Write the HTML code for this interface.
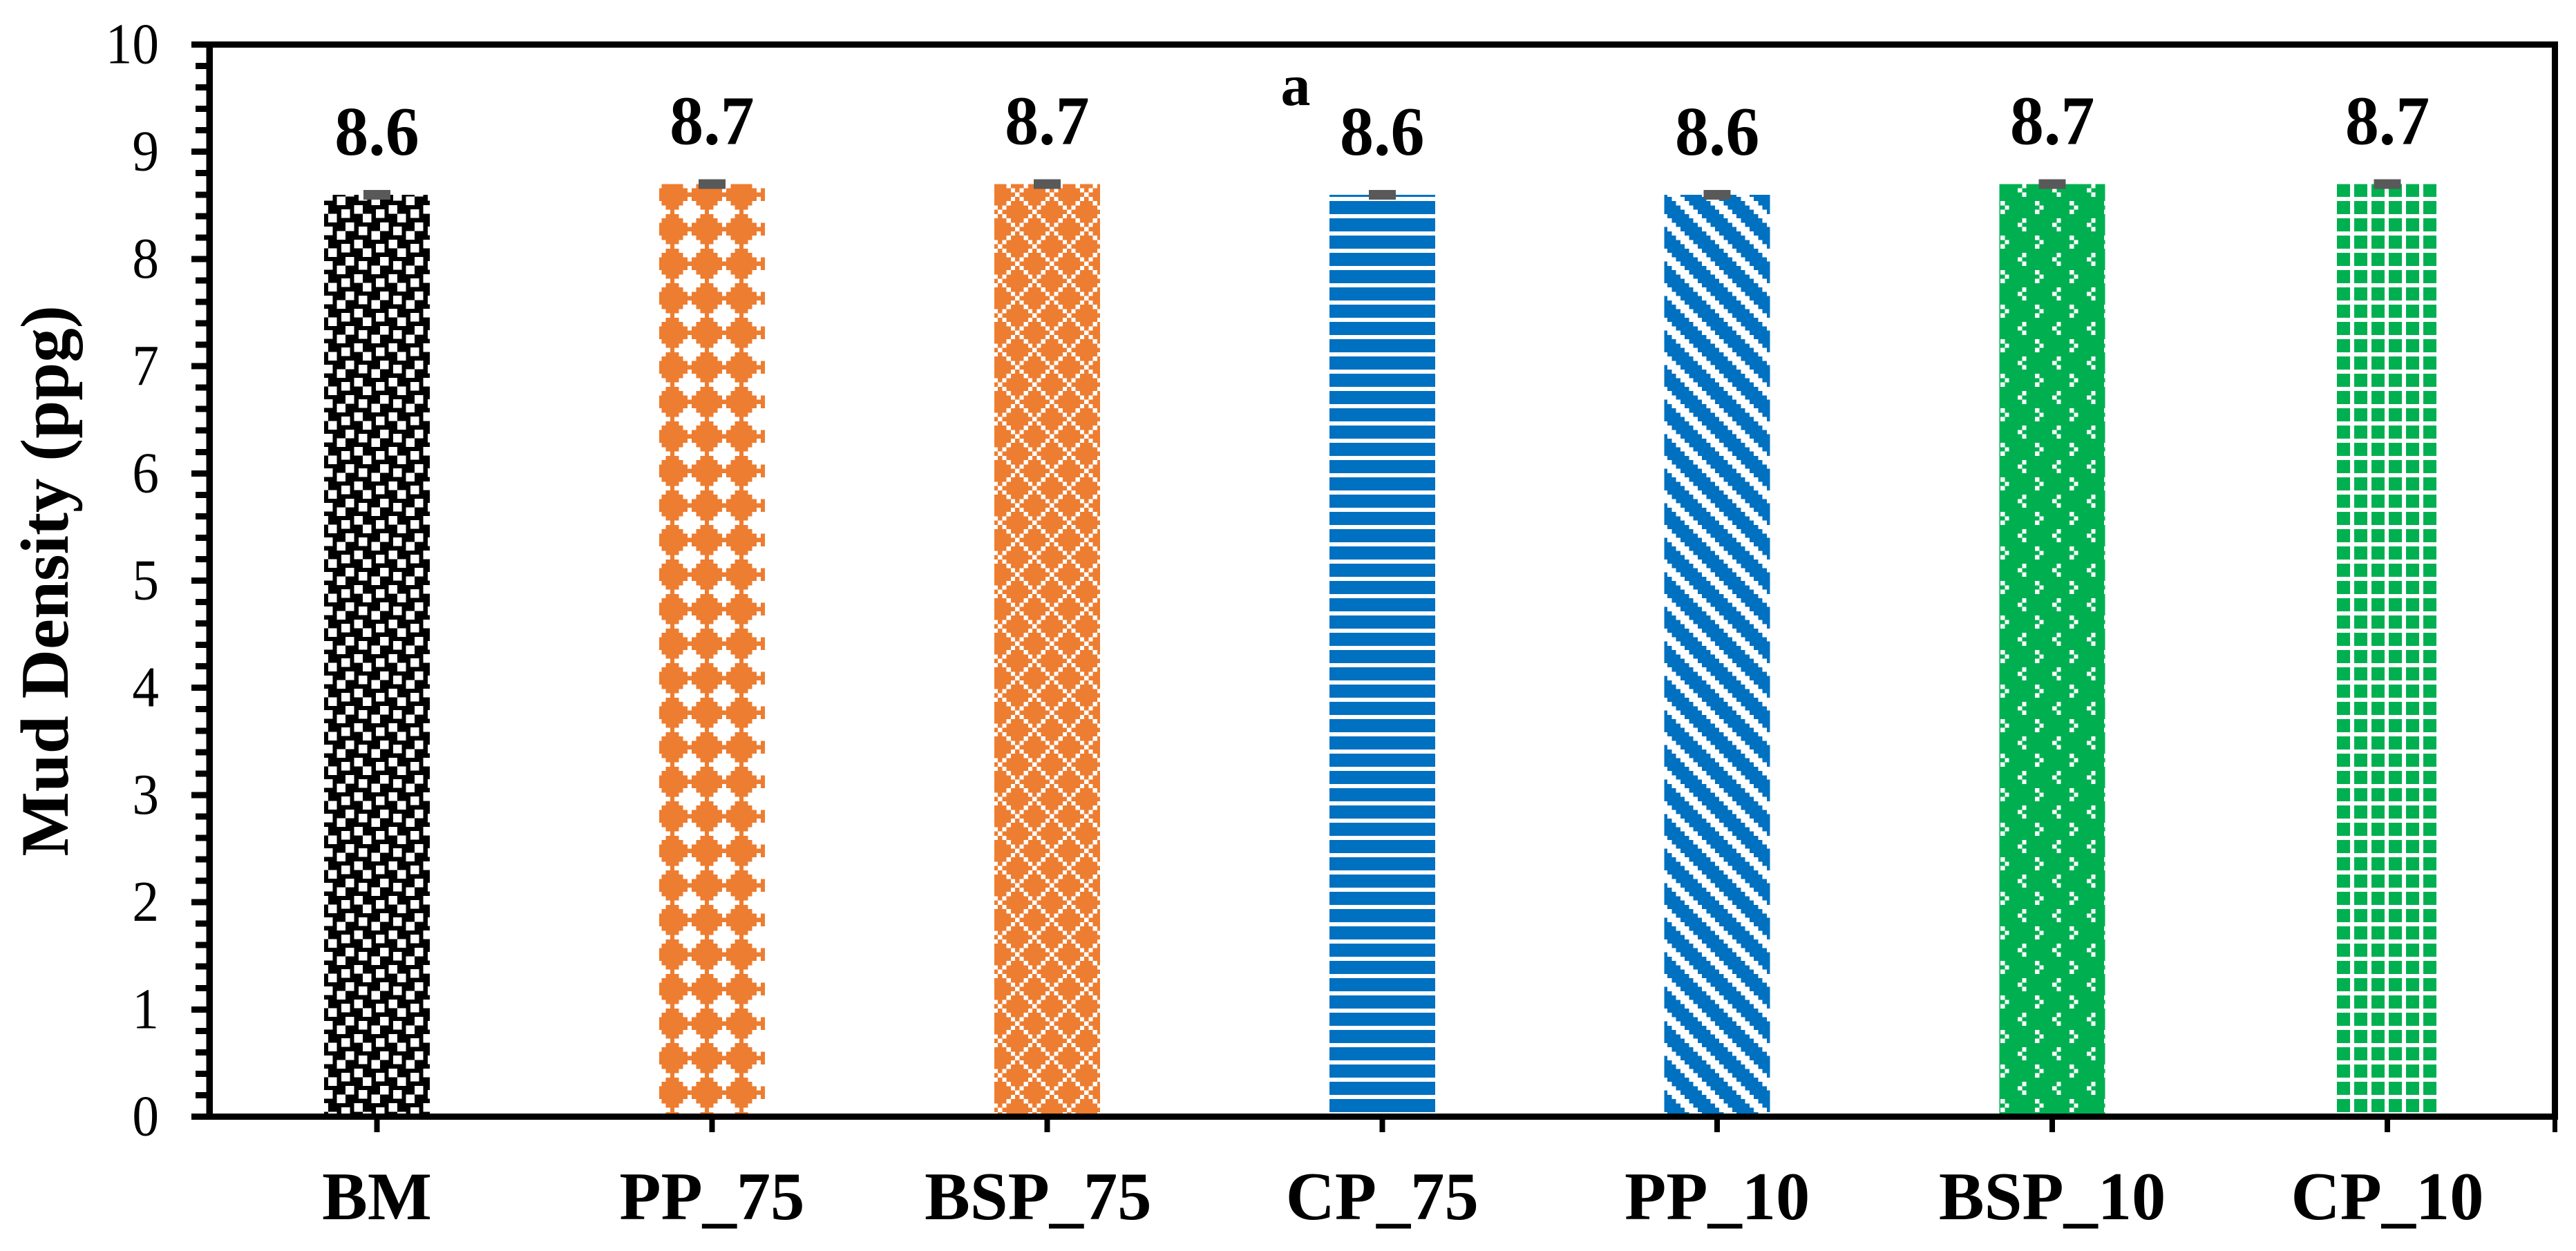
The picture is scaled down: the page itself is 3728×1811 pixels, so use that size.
<!DOCTYPE html>
<html lang="en">
<head>
<meta charset="utf-8">
<title>Mud Density Bar Chart</title>
<style>
html,body{margin:0;padding:0;background:#fff;}
svg{display:block;}
text{font-family:"Liberation Serif","Times New Roman",serif;fill:#000;}
</style>
</head>
<body>
<svg id="chart" xmlns="http://www.w3.org/2000/svg" width="3728" height="1811" viewBox="0 0 3728 1811">
  <rect x="0" y="0" width="3728" height="1811" fill="#ffffff"/>
  <defs id="pattern-defs"></defs>
  <g id="bars"></g>
  <g id="axes"></g>
  <g id="labels"></g>
  <text transform="translate(98,841) rotate(-90)" text-anchor="middle" font-size="99" font-weight="bold">Mud Density (ppg)</text>
  <text x="1875" y="152" text-anchor="middle" font-size="86" font-weight="bold">a</text>
</svg>
<script>
// Chart data
const categories = ['BM', 'PP_75', 'BSP_75', 'CP_75', 'PP_10', 'BSP_10', 'CP_10'];
const densityValues = [8.6, 8.7, 8.7, 8.6, 8.6, 8.7, 8.7];
const valueLabels = ['8.6', '8.7', '8.7', '8.6', '8.6', '8.7', '8.7'];
const yTickLabels = ['0', '1', '2', '3', '4', '5', '6', '7', '8', '9', '10'];

// Excel-style 8x8 hatch bitmaps ('1' = coloured cell)
const hatchConfetti = ['01110010','01001110','11001111','11111100','11100100','00100111','00111111','11110011'];
const hatchDiamond = ['01111100','11111110','11111111','11111110','01111100','00111000','00010000','00111000'];
const hatchOutline = ['11011101','11101011','11110111','11101011','11011101','10111110','01111111','10111110'];
const hatchStripes = ['11111111','11111111','11111111','00000000','11111111','11111111','11111111','00000000'];
const hatchDiagonal = ['01111100','00111110','00011111','10001111','11000111','11100011','11110001','11111000'];
const hatchSparse = ['11111011','11110111','11111011','11111111','01111111','10111111','01111111','11111111'];
const hatchGrid = ['11101110','11101110','11101110','00000000','11101110','11101110','11101110','00000000'];

const barHatches = [hatchConfetti, hatchDiamond, hatchOutline, hatchStripes, hatchDiagonal, hatchSparse, hatchGrid];
const barColors = ['#000000', '#ED7D31', '#ED7D31', '#0070C0', '#0070C0', '#00B050', '#00B050'];
const hatchOriginX = [475, 951, 1444, 1924, 2413, 2895, 3382];
const hatchOriginY = [278, 266, 266, 266, 266, 266, 266];

// Layout and scales
const SVG_NS = 'http://www.w3.org/2000/svg';
const yMax = 10;
const plotLeft = 303;
const plotRight = 3697.5;
const plotTop = 64.5;
const plotBottom = 1616.5;
const barWidth = 153;
const minorPerMajor = 5;

function xScale(i) {
  const step = (plotRight - plotLeft) / categories.length;
  return plotLeft + step * (i + 0.5);
}
function yScale(v) {
  return plotBottom - (plotBottom - plotTop) * v / yMax;
}
function make(tag, attrs, parent) {
  const node = document.createElementNS(SVG_NS, tag);
  Object.keys(attrs).forEach(function (k) { node.setAttribute(k, attrs[k]); });
  parent.appendChild(node);
  return node;
}

const defs = document.getElementById('pattern-defs');
const barsGroup = document.getElementById('bars');
const axesGroup = document.getElementById('axes');
const labelsGroup = document.getElementById('labels');
const cell = 6.25;

// Hatch patterns
barHatches.forEach(function (rows, p) {
  const pat = make('pattern', {
    id: 'hatch-' + p, patternUnits: 'userSpaceOnUse',
    x: hatchOriginX[p], y: hatchOriginY[p], width: cell * 8, height: cell * 8
  }, defs);
  rows.forEach(function (row, r) {
    for (let c = 0; c < 8; c++) {
      if (row[c] === '1') {
        make('rect', {
          x: c * cell, y: r * cell, width: cell, height: cell,
          fill: barColors[p], 'shape-rendering': 'crispEdges'
        }, pat);
      }
    }
  });
});

// Bars, error caps, value labels
const barFloor = 1612.5;
densityValues.forEach(function (v, i) {
  const cx = xScale(i);
  const top = yScale(v);
  const bar = make('rect', {
    x: cx - barWidth / 2, y: top, width: barWidth, height: barFloor - top,
    fill: 'url(#hatch-' + i + ')', 'shape-rendering': 'crispEdges'
  }, barsGroup);
  
  

  const cap = make('rect', {
    x: cx - 19.5, y: top - 7, width: 39, height: 14,
    fill: '#595959', 'shape-rendering': 'crispEdges'
  }, barsGroup);
  
  

  const lbl = make('text', {
    x: 0, y: 0, 'text-anchor': 'middle', 'font-size': 101, 'font-weight': 'bold',
    transform: 'translate(' + cx + ',' + (top - 58) + ') scale(0.97,1)'
  }, labelsGroup);
  lbl.textContent = valueLabels[i];
  
  

  const tick = make('rect', {
    x: cx - 4, y: 1621, width: 8, height: 18, fill: '#000', 'shape-rendering': 'crispEdges'
  }, axesGroup);
  
  

  const nudge = categories[i] === 'BSP_75' ? -13 : 0;
  const catLabel = make('text', {
    x: cx + nudge, y: 1765, 'text-anchor': 'middle', 'font-size': 98.5, 'font-weight': 'bold'
  }, labelsGroup);
  catLabel.textContent = categories[i];
  
  
});

// Y ticks
yTickLabels.forEach(function (label, k) {
  const v = Number(label);
  const y = yScale(v);
  const major = make('rect', {
    x: 277, y: y - 4.5, width: plotLeft - 277, height: 9, fill: '#000', 'shape-rendering': 'crispEdges'
  }, axesGroup);
  
  

  const txt = make('text', {
    x: 0, y: 0, 'text-anchor': 'end', 'font-size': 84,
    transform: 'translate(230,' + (y + 27) + ') scale(0.92,1)'
  }, labelsGroup);
  txt.textContent = label;
  
  

  if (k < yTickLabels.length - 1) {
    for (let m = 1; m < minorPerMajor; m++) {
      const minor = make('rect', {
        x: 283, y: yScale(v + m / minorPerMajor) - 4.5, width: plotLeft - 283, height: 9,
        fill: '#000', 'shape-rendering': 'crispEdges'
      }, axesGroup);
      
      
    }
  }
});

// Frame
const leftAxis = make('rect', { x: 298.5, y: 60, width: 9.5, height: 1561, fill: '#000', 'shape-rendering': 'crispEdges' }, axesGroup);


const bottomAxis = make('rect', { x: 277, y: 1612, width: 3425, height: 9, fill: '#000', 'shape-rendering': 'crispEdges' }, axesGroup);


const topBorder = make('rect', { x: 277, y: 60, width: 3425, height: 9, fill: '#000', 'shape-rendering': 'crispEdges' }, axesGroup);


const rightBorder = make('rect', { x: 3693, y: 60, width: 9, height: 1561, fill: '#000', 'shape-rendering': 'crispEdges' }, axesGroup);


const endTick = make('rect', { x: 3694, y: 1621, width: 7, height: 18, fill: '#000', 'shape-rendering': 'crispEdges' }, axesGroup);


</script>
</body>
</html>
